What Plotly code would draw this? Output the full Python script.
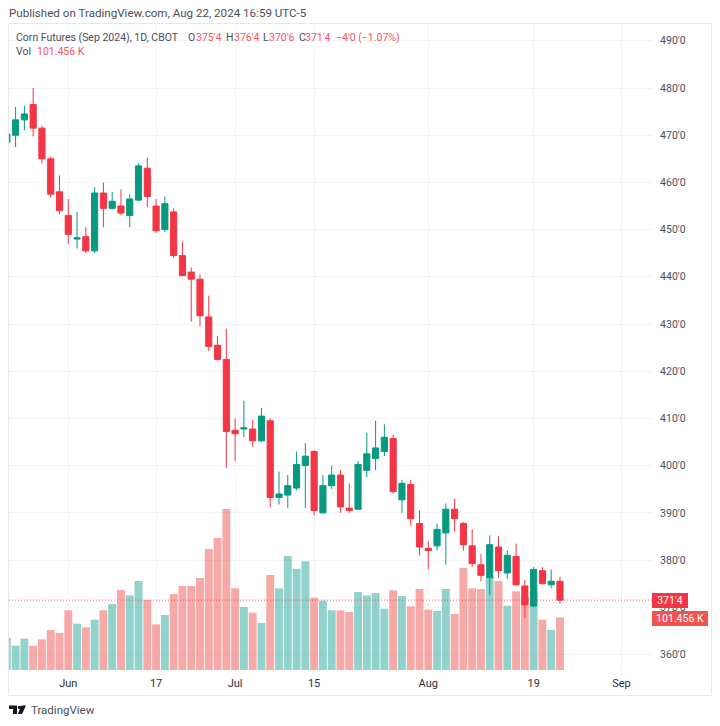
import pandas as pd
import plotly.graph_objects as go

# session dates, ohlc in cents/bu, volume in thousands
closed = ["2024-05-27", "2024-06-19", "2024-07-04", "2024-09-02"]
sessions = pd.bdate_range("2024-05-22", "2024-09-06")
sessions = sessions[~sessions.isin(pd.to_datetime(closed))]
n_bars = 64

opens = [468.5, 470, 473.25, 476.5, 471.5, 465, 458, 453, 448, 448.5, 445.5, 457.75, 454.5, 455, 453, 456.25,
         463, 455, 450, 453.75, 444.5, 441, 439.5, 431.5, 425.5, 422.5, 407.5, 407.75, 407.75, 405.25, 409.5, 393.25,
         393.75, 395.25, 400, 403, 390, 395.75, 398, 391, 390.75, 399, 401.5, 403, 405.75, 392.75, 396, 387.75,
         382.5, 383, 385.75, 390.75, 387.75, 383, 379, 376.25, 382.75, 377.25, 380.75, 374.5, 370.25, 377.75, 374.75, 375.5]
highs = [470.5, 476, 476.25, 480, 472, 465.5, 461.5, 456.5, 453.75, 450.5, 459, 460, 458, 458.5, 457.5, 464,
         465.25, 456.5, 457, 454.5, 447.5, 442, 440.5, 436, 427.5, 429, 410, 413.75, 409.75, 412.25, 410, 398.75,
         398, 403, 404.75, 403.25, 398, 400, 399, 396.25, 401, 407, 409.5, 408.75, 406.5, 397, 397, 390.5,
         384, 387.75, 392, 393, 388, 386.5, 381.25, 385.25, 385, 382, 383.5, 375.75, 378.5, 378.5, 378, 376.5]
lows = [468.25, 467.5, 471, 469.75, 464, 456.75, 453.25, 447, 446, 445, 445, 450.5, 454.25, 453, 450.5, 456,
        454.75, 449.25, 449.5, 444, 440.25, 430.5, 429.5, 424.25, 422.25, 399.5, 401, 406, 404, 405, 391.25, 391.75,
        391, 394.75, 391, 389.5, 389.75, 395, 390, 390, 390.75, 397.5, 399, 402, 394, 390, 387.25, 381,
        378, 382, 379, 386, 382, 378.5, 375.5, 372.5, 376.25, 376, 374.5, 367.75, 370, 374.75, 374, 370.75]
closes = [470.25, 473.25, 474.5, 471.5, 465, 457.5, 454, 449, 448.25, 445.5, 457.75, 454.5, 456, 453.5, 456.5, 463.5,
          457, 449.75, 455.5, 444.5, 440.25, 439.5, 431.75, 425.25, 422.5, 407.25, 406.75, 408, 405.25, 410.5, 393.25, 394,
          395.75, 400.25, 402, 390.5, 395.75, 398, 391.25, 390.5, 400.25, 402.5, 403.75, 406, 394.5, 396.25, 388.75, 382.75,
          382, 386.5, 390.75, 388.75, 383.25, 379.25, 376.75, 383.25, 377.75, 381, 374.75, 370.5, 378, 375, 375.5, 371.5]
volumes = [62.2, 46.8, 60.3, 46.8, 59, 77, 71.2, 114.9, 89.2, 82.1, 96.9, 114.9, 127.1, 154, 143.7, 171.3,
           134.8, 87.9, 105.9, 146.3, 161.7, 161.7, 177.1, 232.9, 254.1, 309.9, 157.2, 121.3, 110.4, 90.5, 182.9, 157.2,
           219.5, 195.1, 209.2, 139.2, 133.5, 114.9, 114.9, 111.7, 150.2, 143.7, 148.2, 118.1, 153.4, 142.5, 122.6, 155.9,
           116.1, 113.6, 155.9, 107.8, 196.4, 157.2, 155.9, 178.4, 171.3, 123.8, 151.4, 140, 149.5, 96.9, 77, 101.456]

price_ticks = list(range(360, 500, 10))
price_labels = [f"{p}'0" for p in price_ticks]
time_ticks = ["2024-06-03", "2024-06-17", "2024-07-01", "2024-07-15", "2024-08-01", "2024-08-19", "2024-09-03"]
time_labels = ["Jun", "17", "Jul", "15", "Aug", "19", "Sep"]

RED = "#F23645"
GREEN = "#089981"
VALUE_RED = "#F7525F"
TEXT = "#4A4E57"
GRID = "#F3F4F7"
FONT = "Roboto"


# page pixels to paper coords, plot area is x 9-652, y 24-670 on the page
def px(x):
    return (x - 9) / 643


def py(y):
    return (670 - y) / 646


bar_x = list(range(n_bars))
tick_x = [list(sessions).index(pd.Timestamp(d)) for d in time_ticks]
vol_colors = ["rgba(38,166,154,0.5)" if c >= o else "rgba(239,83,80,0.5)" for o, c in zip(opens, closes)]

fig = go.Figure()
fig.add_trace(go.Bar(x=bar_x, y=volumes, marker=dict(color=vol_colors, line_width=0), yaxis="y"))
fig.add_trace(go.Candlestick(
    x=bar_x, open=opens, high=highs, low=lows, close=closes, yaxis="y2", whiskerwidth=0,
    increasing=dict(line=dict(color=GREEN, width=1), fillcolor=GREEN),
    decreasing=dict(line=dict(color=RED, width=1), fillcolor=RED),
))

notes = []


def note(x, y, text, size=10.5, color=TEXT, **kw):
    notes.append(dict(xref="paper", yref="paper", x=px(x), y=py(y), text=text, showarrow=False,
                      xanchor=kw.pop("xanchor", "left"), yanchor="middle", borderpad=0, borderwidth=0,
                      font=dict(family=FONT, size=size, color=color), **kw))


note(9, 13, "Published on TradingView.com, Aug 22, 2024 16:59 UTC-5", 11.6)
note(16, 37, "Corn Futures (Sep 2024), 1D, CBOT")
note(188, 37, "O")
note(195.5, 37, "375'4", color=VALUE_RED)
note(226, 37, "H")
note(234, 37, "376'4", color=VALUE_RED)
note(263, 37, "L")
note(268.7, 37, "370'6", color=VALUE_RED)
note(299, 37, "C")
note(305, 37, "371'4", color=VALUE_RED)
note(336, 37, "\u22124'0 (\u22121.07%)", color=VALUE_RED)
note(16, 52, "Vol")
note(37, 52, "101.456 K", color=VALUE_RED)
note(30.5, 710, "TradingView", 11.5)
note(670, 600.5, "371'4", 10.5, "white", xanchor="center", bgcolor=RED, width=36, height=15)
note(680, 618, "101.456 K", 10.5, "white", xanchor="center", bgcolor="#EF5350", width=56, height=15)

shapes = [
    dict(type="rect", xref="paper", yref="paper", x0=px(8.5), x1=px(711.5), y0=py(23.5), y1=py(695.5),
         line=dict(color="#E6E8EE", width=1), layer="below"),
    dict(type="line", xref="paper", yref="y2", x0=0, x1=1, y0=closes[-1], y1=closes[-1], opacity=0.8,
         line=dict(color=RED, width=1, dash="1px,2px")),
    # logo mark
    dict(type="path", xref="paper", yref="paper", fillcolor="#131722", line_width=0,
         path=f"M{px(9)},{py(705.5)} L{px(17)},{py(705.5)} L{px(17)},{py(714)} L{px(13)},{py(714)} "
              f"L{px(13)},{py(709)} L{px(9)},{py(709)} Z"),
    dict(type="circle", xref="paper", yref="paper", fillcolor="#131722", line_width=0,
         x0=px(17.8), x1=px(21.2), y0=py(705.8), y1=py(709.2)),
    dict(type="path", xref="paper", yref="paper", fillcolor="#131722", line_width=0,
         path=f"M{px(21.5)},{py(705.5)} L{px(26)},{py(705.5)} L{px(22)},{py(714)} L{px(17.8)},{py(714)} Z"),
]

fig.update_layout(
    width=720, height=726,
    margin=dict(l=9, r=68, t=24, b=56, autoexpand=False),
    paper_bgcolor="white", plot_bgcolor="white",
    showlegend=False, hovermode=False, bargap=0.1, boxgap=0.3, boxgroupgap=0,
    annotations=notes, shapes=shapes,
    xaxis=dict(range=[0.248, 73.48], tickvals=tick_x, ticktext=time_labels, showgrid=True, gridcolor=GRID,
               gridwidth=1, zeroline=False, showline=False, ticks="outside", ticklen=3, tickcolor="white",
               tickangle=0, tickfont=dict(family=FONT, size=11, color="#2A2E39"),
               rangeslider=dict(visible=False)),
    yaxis=dict(range=[0, 1243.6], visible=False, fixedrange=True),
    yaxis2=dict(range=[356.7, 493.56], overlaying="y", side="right", tickvals=price_ticks, ticktext=price_labels,
                showgrid=True, gridcolor=GRID, gridwidth=1, zeroline=False, showline=False, ticks="outside",
                ticklen=5, tickcolor="white", tickfont=dict(family=FONT, size=10.5, color=TEXT)),
)

fig.write_html("out.html", config={"displayModeBar": False}, post_script="document.body.style.margin = '0';")
